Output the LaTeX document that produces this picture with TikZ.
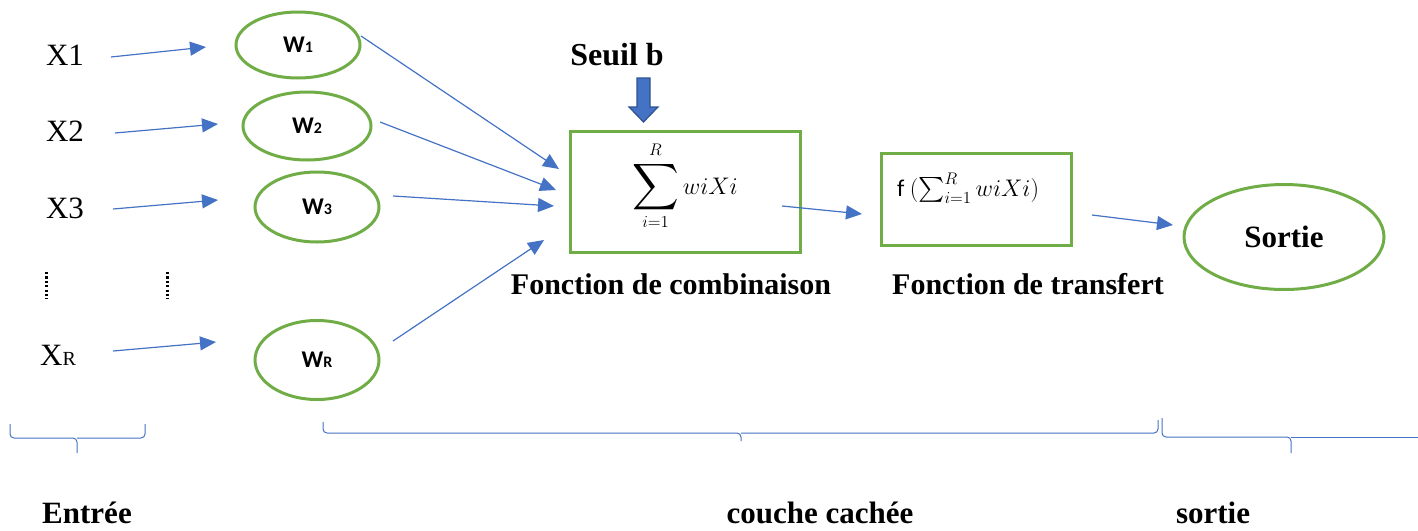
\RequirePackage{fix-cm}
\documentclass[tikz,border=0pt]{standalone}
\usepackage{exscale}
\usepackage{fontspec}
\setmainfont{Liberation Serif}
\newfontfamily\wfont{Carlito}
\usetikzlibrary{shapes.geometric,arrows.meta}
\definecolor{ablue}{HTML}{4472C4}
\definecolor{agreen}{HTML}{70AD47}
\definecolor{dblue}{HTML}{2F528F}
\begin{document}
\begin{tikzpicture}[x=1pt,y=-1pt,
  arr/.style={ablue, line width=1.2pt, -{Triangle[length=16pt,width=14pt]}},
  wnode/.style={ellipse, draw=agreen, line width=3pt, inner sep=0pt, font=\wfont\bfseries\fontsize{24}{24}\selectfont},
  boxnode/.style={rectangle, draw=agreen, line width=3pt, inner sep=0pt},
  lbl/.style={font=\bfseries\fontsize{30}{30}\selectfont},
  xin/.style={font=\fontsize{31}{31}\selectfont},
  brc/.style={ablue, line width=1pt, rounded corners=4pt},
  dots/.style={black, line width=3pt, dash pattern=on 2.2pt off 2.2pt}]
\useasboundingbox (0,0) rectangle (1418,530);

% inputs
\node[xin] (x1) at (65,55) {X1};
\node[xin] (x2) at (65,131) {X2};
\node[xin] (x3) at (65,208) {X3};
\node[xin] (xr) at (58,355) {X{\fontsize{20}{20}\selectfont R}};

% weights
\node[wnode, minimum width=124pt, minimum height=66pt] (w1) at (298,45) {W{\fontsize{16}{16}\selectfont 1}};
\node[wnode, minimum width=128pt, minimum height=68pt] (w2) at (307,126) {W{\fontsize{16}{16}\selectfont 2}};
\node[wnode, minimum width=124pt, minimum height=70pt] (w3) at (317,207) {W{\fontsize{16}{16}\selectfont 3}};
\node[wnode, minimum width=124pt, minimum height=79pt] (wr) at (317,360) {W{\fontsize{16}{16}\selectfont R}};

% dots
\draw[dots] (46,272) -- (46,299);
\draw[dots] (167,272) -- (167,299);

% arrow endpoints
\coordinate (a1s) at (111,57); \coordinate (a1e) at (206,47);
\coordinate (a2s) at (115,133); \coordinate (a2e) at (218,124);
\coordinate (a3s) at (113,209); \coordinate (a3e) at (218,200);
\coordinate (ars) at (113,351); \coordinate (are) at (216,342);
\draw[arr] (a1s) -- (a1e);
\draw[arr] (a2s) -- (a2e);
\draw[arr] (a3s) -- (a3e);
\draw[arr] (ars) -- (are);

% combination box
\node[boxnode, minimum width=230pt, minimum height=121pt] (comb) at (685,192) {};
\node (sum) at (685,186) {\fontsize{24}{24}\selectfont $\displaystyle\mathop{\scalebox{1.3}{$\displaystyle\sum$}}\limits_{i=1}^{R} wiXi$};
\node[lbl] (combl) at (671,284) {Fonction de combinaison};

\coordinate (b1s) at (361,36); \coordinate (b1e) at (559,169);
\coordinate (b2s) at (380,122); \coordinate (b2e) at (556,190);
\coordinate (b3s) at (393,196); \coordinate (b3e) at (554,206);
\coordinate (brs) at (393,341); \coordinate (bre) at (544,240);
\draw[arr] (b1s) -- (b1e);
\draw[arr] (b2s) -- (b2e);
\draw[arr] (b3s) -- (b3e);
\draw[arr] (brs) -- (bre);

% seuil
\node[font=\bfseries\fontsize{32}{32}\selectfont] (seuil) at (617,55) {Seuil b};
\draw[fill=ablue, draw=dblue, line width=1.2pt]
  (637,78) -- (650,78) -- (650,107) -- (658,107) -- (643.5,122) -- (629,107) -- (637,107) -- cycle;

% transfer box
\node[boxnode, minimum width=190pt, minimum height=92pt] (trans) at (976,199) {};
\node (fx) at (968,188) {\wfont\fontsize{24}{24}\selectfont f\ $(\sum_{i=1}^{R} wiXi)$};
\node[lbl] (transl) at (1028,284) {Fonction de transfert};

\coordinate (c1s) at (782,206); \coordinate (c1e) at (862,214);
\draw[arr] (c1s) -- (c1e);

% output
\node[ellipse, draw=agreen, line width=3pt, minimum width=200pt, minimum height=105pt, inner sep=0pt, font=\bfseries\fontsize{31}{31}\selectfont] (out) at (1284,237) {Sortie};
\coordinate (d1s) at (1092,215); \coordinate (d1e) at (1173,225);
\draw[arr] (d1s) -- (d1e);

% braces
\draw[brc] (10,424) -- (10,438) -- (77,438) -- (77,453);
\draw[brc] (77,438) -- (145,438) -- (145,424);
\draw[brc] (323,422) -- (323,433) -- (741,433) -- (741,441);
\draw[brc] (741,433) -- (1158,433) -- (1158,420);
\draw[brc] (1162,418) -- (1162,437) -- (1291,437) -- (1291,453);
\draw[brc] (1291,437) -- (1418,437);

% bottom labels
\node[font=\bfseries\fontsize{31}{31}\selectfont] (lin) at (87,513) {Entrée};
\node[font=\bfseries\fontsize{31}{31}\selectfont] (lhid) at (820,513) {couche cachée};
\node[font=\bfseries\fontsize{31}{31}\selectfont] (lout) at (1213,513) {sortie};
\end{tikzpicture}
\end{document}
